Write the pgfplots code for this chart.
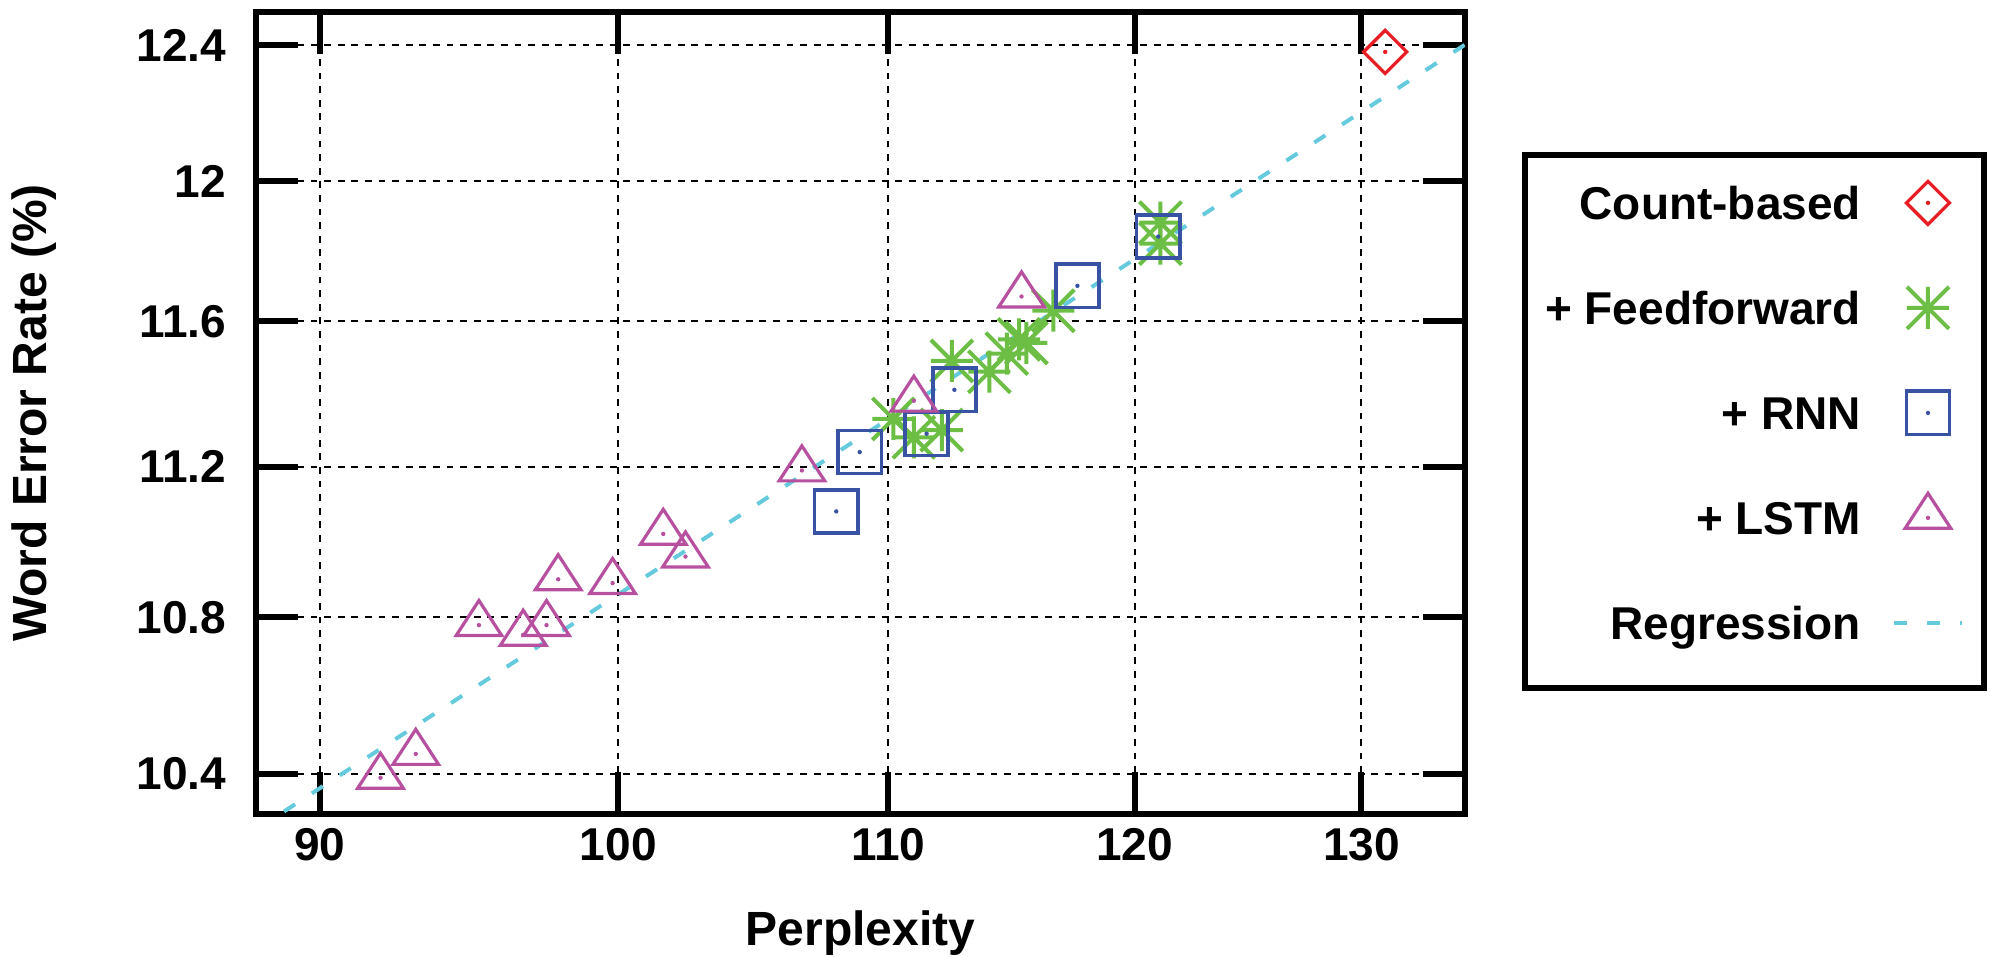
\documentclass[border=0pt]{standalone}
\usepackage{fontspec}
\setmainfont{Liberation Sans}
\usepackage{pgfplots}
\pgfplotsset{compat=1.18}

\definecolor{cbred}{RGB}{232,30,37}
\definecolor{ffgreen}{RGB}{108,190,69}
\definecolor{rnnblue}{RGB}{57,83,164}
\definecolor{lstmmag}{RGB}{182,80,159}
\definecolor{regcyan}{RGB}{100,202,220}

% gnuplot-like point types (with the small centre dot)
\pgfdeclareplotmark{sqdot}{%
  \pgfpathrectangle{\pgfpoint{-5.4pt}{-5.4pt}}{\pgfpoint{10.8pt}{10.8pt}}%
  \pgfusepathqstroke
  \pgfpathcircle{\pgfpointorigin}{0.55pt}\pgfusepathqfill}
\pgfdeclareplotmark{tridot}{%
  \pgfpathmoveto{\pgfpoint{-5.7pt}{-2.6pt}}%
  \pgfpathlineto{\pgfpoint{5.7pt}{-2.6pt}}%
  \pgfpathlineto{\pgfpoint{0pt}{6.15pt}}%
  \pgfpathclose
  \pgfusepathqstroke
  \pgfpathcircle{\pgfpointorigin}{0.55pt}\pgfusepathqfill}
\pgfdeclareplotmark{diadot}{%
  \pgfpathmoveto{\pgfpoint{0pt}{5.4pt}}%
  \pgfpathlineto{\pgfpoint{5.4pt}{0pt}}%
  \pgfpathlineto{\pgfpoint{0pt}{-5.4pt}}%
  \pgfpathlineto{\pgfpoint{-5.4pt}{0pt}}%
  \pgfpathclose
  \pgfusepathqstroke
  \pgfpathcircle{\pgfpointorigin}{0.55pt}\pgfusepathqfill}
\pgfdeclareplotmark{star8}{%
  \pgfpathmoveto{\pgfpoint{-5.25pt}{0pt}}\pgfpathlineto{\pgfpoint{5.25pt}{0pt}}%
  \pgfpathmoveto{\pgfpoint{0pt}{-5.25pt}}\pgfpathlineto{\pgfpoint{0pt}{5.25pt}}%
  \pgfpathmoveto{\pgfpoint{-5.25pt}{-5.25pt}}\pgfpathlineto{\pgfpoint{5.25pt}{5.25pt}}%
  \pgfpathmoveto{\pgfpoint{-5.25pt}{5.25pt}}\pgfpathlineto{\pgfpoint{5.25pt}{-5.25pt}}%
  \pgfusepathqstroke}

% dashed legend sample, with some extra room below the last row
\pgfplotsset{reglegend/.style={legend image code/.code={%
  \draw[##1] (0cm,0cm) -- (0.6cm,0cm);
  \path (0cm,-10.4pt);}}}

\begin{document}
\begin{tikzpicture}
\begin{axis}[
  name=ax,
  scale only axis,
  width=302.25pt, height=200.5pt,
  xmode=log, ymode=log,
  xmin=88, xmax=134.85, ymin=10.3, ymax=12.5,
  xtick={90,100,110,120,130},
  xticklabels={90,100,110,120,130},
  ytick={10.4,10.8,11.2,11.6,12,12.4},
  yticklabels={10.4,10.8,11.2,11.6,12,12.4},
  minor xtick={}, minor ytick={},
  tick align=inside,
  major tick length=10.5pt,
  every tick/.style={black, line width=1.5pt},
  axis line style={line width=1.5pt},
  grid=major,
  grid style={black, line width=0.5pt, dash pattern=on 1.7pt off 1.7pt},
  /pgf/number format/assume math mode=true,
  tick label style={font=\bfseries\fontsize{11.5}{13}\selectfont},
  yticklabel style={xshift=-4pt},
  label style={font=\bfseries\fontsize{12}{14}\selectfont},
  xlabel={Perplexity},
  ylabel={Word Error Rate (\%)},
  xlabel style={at={(axis description cs:0.5,-0.1484)}, anchor=center},
  ylabel style={at={(axis description cs:-0.1836,0.5)}, anchor=center},
  legend plot pos=right,
  legend cell align=right,
  legend style={
    at={(1,1)}, anchor=north west, xshift=14.25pt, yshift=-35pt,
    draw=black, line width=1.5pt, fill=white,
    inner xsep=5pt, inner ysep=5.35pt,
    font=\bfseries\fontsize{11.5}{13}\selectfont,
    nodes={inner sep=0pt, text height=10.8pt, text depth=2.5pt},
    row sep=12.95pt, column sep=7.75pt},
]

\addplot[only marks, color=cbred, mark=diadot, line width=0.8pt]
coordinates {(131.1,12.38)};
\addlegendentry{Count-based}

\addplot[only marks, color=ffgreen, mark=star8, line width=1pt]
coordinates {
  (121.1,11.88)(121.1,11.82)(116.6,11.63)(115.5,11.54)(115.2,11.55)
  (114.7,11.51)(114.0,11.46)(112.5,11.49)(112.1,11.30)(111.0,11.28)
  (110.2,11.33)
};
\addlegendentry{+ Feedforward}

\addplot[only marks, color=rnnblue, mark=sqdot, line width=0.9pt]
coordinates {
  (121.0,11.84)(117.6,11.70)(112.6,11.41)(111.5,11.29)(108.9,11.24)
  (108.0,11.08)
};
\addlegendentry{+ RNN}

\addplot[only marks, color=lstmmag, mark=tridot, line width=0.8pt]
coordinates {
  (91.95,10.39)(93.1,10.45)(95.2,10.78)(96.7,10.755)(97.5,10.78)
  (97.9,10.90)(99.8,10.89)(101.6,11.02)(102.4,10.96)(106.7,11.19)
  (111.0,11.38)(115.3,11.67)
};
\addlegendentry{+ LSTM}

\addplot[color=regcyan, line width=1pt, dash pattern=on 3.3pt off 5pt, no marks, reglegend]
coordinates {(88,10.261)(135,12.408)};
\addlegendentry{Regression}

\end{axis}
\pgfresetboundingbox
\path[use as bounding box] ([xshift=-64pt,yshift=-35.75pt]ax.south west)
  rectangle ([xshift=131.25pt,yshift=3pt]ax.north east);
\end{tikzpicture}
\end{document}
